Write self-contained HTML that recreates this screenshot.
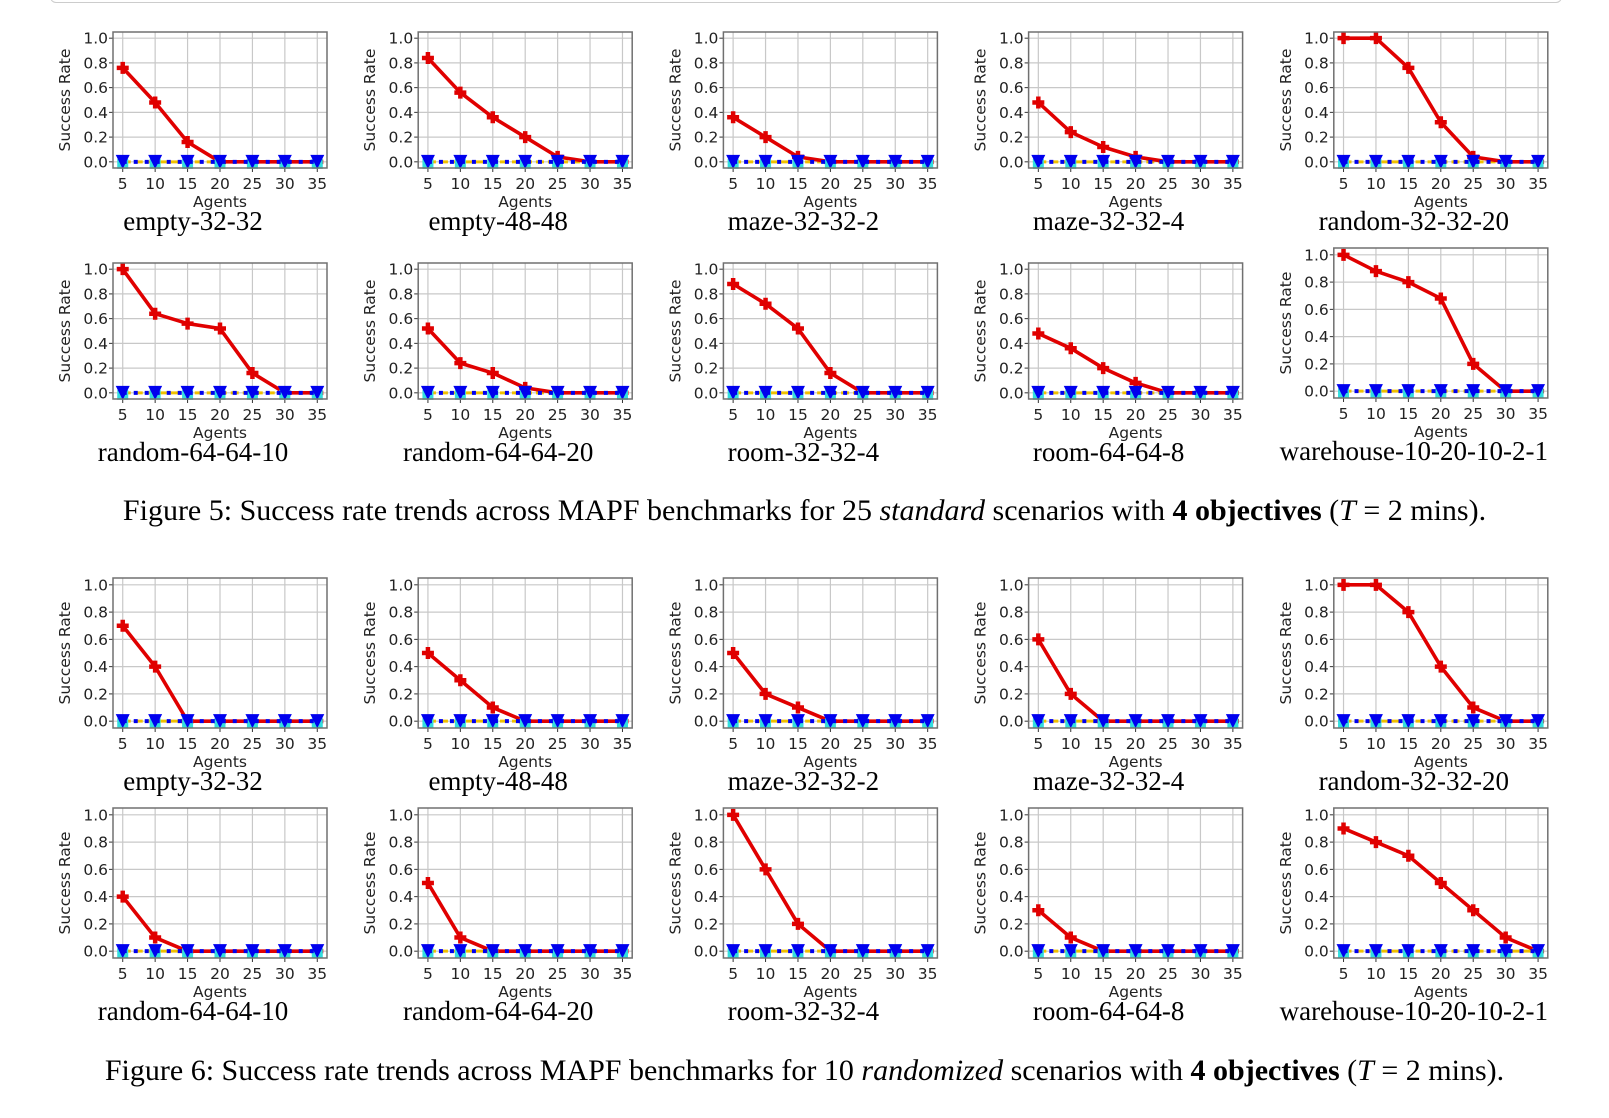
<!DOCTYPE html>
<html><head><meta charset="utf-8">
<style>
html,body{margin:0;padding:0;background:#fff;width:1609px;height:1118px;overflow:hidden;position:relative}
.cap{position:absolute;left:0;width:1609px;text-align:center;font-family:"Liberation Serif",serif;font-size:30px;color:#000;white-space:nowrap}
#topbox{position:absolute;left:50px;top:-20px;width:1510px;height:21px;border:1px solid #ccc;border-radius:6px}
</style></head>
<body>
<div id="topbox"></div>
<svg id="chart" width="1609" height="1118" style="position:absolute;left:0;top:0"></svg>
<div class="cap" style="top:494px">Figure 5: Success rate trends across MAPF benchmarks for 25 <i>standard</i> scenarios with <b>4 objectives</b> (<i>T</i> = 2 mins).</div>
<div class="cap" style="top:1054px">Figure 6: Success rate trends across MAPF benchmarks for 10 <i>randomized</i> scenarios with <b>4 objectives</b> (<i>T</i> = 2 mins).</div>
<script>
const agents = [5,10,15,20,25,30,35];
const yTicks = [0,0.2,0.4,0.6,0.8,1.0];
const yTickLabels = ["0.0","0.2","0.4","0.6","0.8","1.0"];
const mapNames = ["empty-32-32","empty-48-48","maze-32-32-2","maze-32-32-4","random-32-32-20","random-64-64-10","random-64-64-20","room-32-32-4","room-64-64-8","warehouse-10-20-10-2-1"];
const fig5Values = [
 [0.76,0.48,0.16,0,0,0,0],
 [0.84,0.56,0.36,0.20,0.04,0,0],
 [0.36,0.20,0.04,0,0,0,0],
 [0.48,0.24,0.12,0.04,0,0,0],
 [1,1,0.76,0.32,0.04,0,0],
 [1,0.64,0.56,0.52,0.16,0,0],
 [0.52,0.24,0.16,0.04,0,0,0],
 [0.88,0.72,0.52,0.16,0,0,0],
 [0.48,0.36,0.20,0.08,0,0,0],
 [1,0.88,0.80,0.68,0.20,0,0]
];
const fig6Values = [
 [0.7,0.4,0,0,0,0,0],
 [0.5,0.3,0.1,0,0,0,0],
 [0.5,0.2,0.1,0,0,0,0],
 [0.6,0.2,0,0,0,0,0],
 [1,1,0.8,0.4,0.1,0,0],
 [0.4,0.1,0,0,0,0,0],
 [0.5,0.1,0,0,0,0,0],
 [1,0.6,0.2,0,0,0,0],
 [0.3,0.1,0,0,0,0,0],
 [0.9,0.8,0.7,0.5,0.3,0.1,0]
];
const baselineValues = [0,0,0,0,0,0,0];

const svg = document.getElementById('chart');
const NS = 'http://www.w3.org/2000/svg';
function mk(tag, attrs, parent){const e=document.createElementNS(NS,tag);for(const k in attrs)e.setAttribute(k,attrs[k]);(parent||svg).appendChild(e);return e;}

function drawPanel(figId, idx, values, left, top, w, h){
  const g = mk('g',{});
  
  
  const xmin=5-1.5, xmax=35+1.5, ymin=-0.05, ymax=1.05;
  const sx = v => left + (v-xmin)/(xmax-xmin)*w;
  const sy = v => top + h - (v-ymin)/(ymax-ymin)*h;
  agents.forEach(a=>{const l=mk('line',{x1:sx(a),x2:sx(a),y1:top,y2:top+h,stroke:'#c8c8c8','stroke-width':1.2},g);
    });
  yTicks.forEach(t=>{const l=mk('line',{x1:left,x2:left+w,y1:sy(t),y2:sy(t),stroke:'#c8c8c8','stroke-width':1.2},g);
    });
  yTicks.forEach((t,i)=>{
    mk('line',{x1:left-4,x2:left,y1:sy(t),y2:sy(t),stroke:'#333','stroke-width':1},g);
    const tx=mk('text',{x:left-5,y:sy(t)+5.5,'text-anchor':'end','font-family':'DejaVu Sans, sans-serif','font-size':15.5,fill:'#222'},g);
    tx.textContent=yTickLabels[i];
    
  });
  agents.forEach(a=>{
    mk('line',{x1:sx(a),x2:sx(a),y1:top+h,y2:top+h+4,stroke:'#333','stroke-width':1},g);
    const tx=mk('text',{x:sx(a),y:top+h+21,'text-anchor':'middle','font-family':'DejaVu Sans, sans-serif','font-size':15.5,fill:'#222'},g);
    tx.textContent=a;
    
  });
  const yl=mk('text',{x:0,y:0,'text-anchor':'middle','font-family':'DejaVu Sans, sans-serif','font-size':15.5,fill:'#222',transform:'translate('+(left-43)+','+(top+h/2)+') rotate(-90)'},g);
  yl.textContent='Success Rate';
  
  const xl=mk('text',{x:left+w/2,y:top+h+39,'text-anchor':'middle','font-family':'DejaVu Sans, sans-serif','font-size':15.5,fill:'#222'},g);
  xl.textContent='Agents';
  
  const tl=mk('text',{x:left+w/2-27,y:top+h+62,'text-anchor':'middle','font-family':'Liberation Serif, serif','font-size':27,fill:'#000'},g);
  tl.textContent=mapNames[idx];
  
  const bpts = agents.map((a,i)=>sx(a)+','+sy(baselineValues[i])).join(' ');
  const yb=mk('polyline',{points:bpts,fill:'none',stroke:'#f0c000','stroke-width':3,'stroke-dasharray':'8,4'},g);
  
  const rpts = agents.map((a,i)=>sx(a)+','+sy(values[i])).join(' ');
  const rl=mk('polyline',{points:rpts,fill:'none',stroke:'#e00000','stroke-width':3.6,'stroke-linejoin':'round'},g);
  
  agents.forEach((a,i)=>{
    const x=sx(a),y=sy(values[i]);
    const p=mk('path',{d:`M${x-6},${y}H${x+6}M${x},${y-6}V${y+6}`,stroke:'#e00000','stroke-width':4.5},g);
    
  });
  agents.forEach((a,i)=>{
    const x=sx(a),y=sy(baselineValues[i]);
    const c=mk('rect',{x:x-5.5,y:y-3,width:11,height:10,fill:'#33dddd'},g);
    
  });
  const bl=mk('polyline',{points:bpts,fill:'none',stroke:'#0000ee','stroke-width':4,'stroke-dasharray':'4,7'},g);
  
  agents.forEach((a,i)=>{
    const x=sx(a),y=sy(baselineValues[i]);
    const t=mk('path',{d:`M${x-7},${y-7}L${x+7},${y-7}L${x},${y+7}Z`,fill:'#0000ee'},g);
    
  });
  const fr=mk('rect',{x:left,y:top,width:w,height:h,fill:'none',stroke:'#707070','stroke-width':1.5},g);
  
}

const colLeft = c => 113 + c*305.2;
for(let i=0;i<10;i++){
  const r=Math.floor(i/5), c=i%5;
  let top5 = r===0?32:263, h5 = 136;
  if(i===9){top5=248;h5=150;}
  drawPanel('fig5', i, fig5Values[i], colLeft(c), top5, 214, h5);
  const top6 = r===0?578:808;
  drawPanel('fig6', i, fig6Values[i], colLeft(c), top6, 214, 150);
}
</script>
</body></html>
